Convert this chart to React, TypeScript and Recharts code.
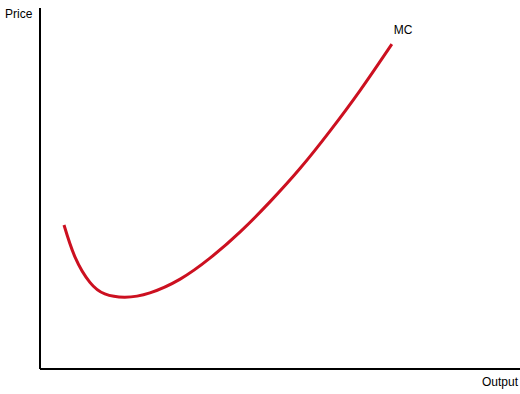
import { LineChart, Line, XAxis, YAxis, Label, LabelList } from 'recharts'

// marginal cost curve (arbitrary 0-100 units)
const output = [5.0, 7.3, 10.4, 13.5, 17.7, 22.9, 29.2, 35.4, 41.7, 47.9, 54.2, 60.4, 66.7, 73.3]
const price = [39.9, 31.0, 24.0, 20.8, 19.9, 21.1, 24.9, 30.7, 38.0, 46.3, 55.6, 65.9, 77.2, 90.0]
const curveName = 'MC'
const xTitle = 'Output'
const yTitle = 'Price'

const data = output.map((q, i) => ({ q, p: price[i] }))

const font = '"Liberation Sans", Arial, sans-serif'

export default function App() {
  return (
    <div style={{ position: 'absolute', left: 0, top: 0, background: '#fff' }}>
      <LineChart width={520} height={394} data={data} margin={{ top: 8, right: 0, bottom: 0, left: 0 }}>
        <XAxis
          type="number"
          dataKey="q"
          domain={[0, 100]}
          tick={false}
          tickLine={false}
          height={25}
          axisLine={{ stroke: '#000', strokeWidth: 2 }}
        >
          <Label
            content={() => (
              <text x={518} y={386} textAnchor="end" fontSize={12} fontFamily={font} fill="#000">
                {xTitle}
              </text>
            )}
          />
        </XAxis>
        <YAxis
          type="number"
          domain={[0, 100]}
          tick={false}
          tickLine={false}
          width={40}
          axisLine={{ stroke: '#000', strokeWidth: 2 }}
        >
          <Label
            content={() => (
              <text x={5} y={18} fontSize={12} fontFamily={font} fill="#000">
                {yTitle}
              </text>
            )}
          />
        </YAxis>
        <Line
          type="natural"
          dataKey="p"
          stroke="#cc1020"
          strokeWidth={3}
          dot={false}
          isAnimationActive={false}
        >
          <LabelList
            dataKey="p"
            content={(props: any) =>
              props.index === output.length - 1 ? (
                <text x={props.x + 2} y={props.y - 10} fontSize={12} fontFamily={font} fill="#000">
                  {curveName}
                </text>
              ) : null
            }
          />
        </Line>
      </LineChart>
    </div>
  )
}
